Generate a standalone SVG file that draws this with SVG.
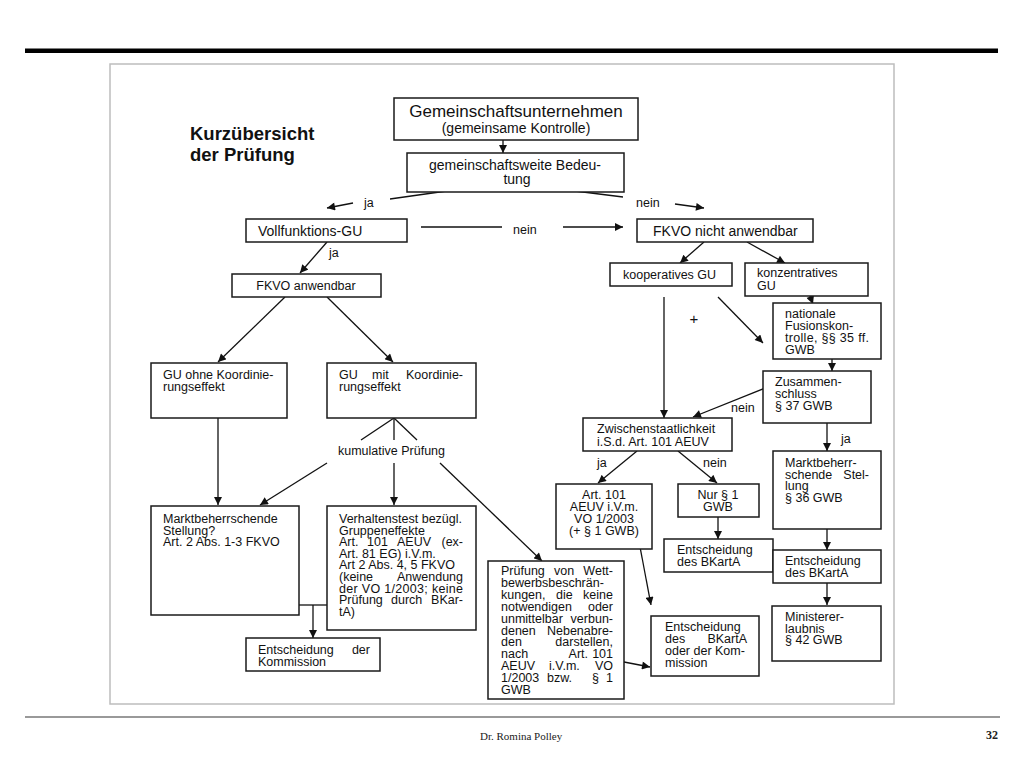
<svg xmlns="http://www.w3.org/2000/svg" width="1024" height="768" viewBox="0 0 1024 768">
<style>
.b{fill:#fff;stroke:#1a1a1a;stroke-width:1.5}
.t{font-family:"Liberation Sans",Arial,sans-serif;font-size:12.5px;fill:#111}
.h{font-size:14px}
.e{text-anchor:end}
.m{text-anchor:middle}
.c{stroke:#111;stroke-width:1.3;fill:none}
.ar{marker-end:url(#a)}
</style>
<defs>
<marker id="a" viewBox="0 0 10 10" refX="10" refY="5" markerWidth="9" markerHeight="8" markerUnits="userSpaceOnUse" orient="auto"><path d="M0,0 L10,5 L0,10 z" fill="#111"/></marker>
</defs>
<rect width="1024" height="768" fill="#fff"/>
<rect x="25" y="48.5" width="973" height="4.5" fill="#000"/>
<rect x="110" y="64" width="784" height="640" fill="none" stroke="#bdbdbd" stroke-width="1.5"/>
<line x1="25" y1="717" x2="1000" y2="717" stroke="#777" stroke-width="1.5"/>
<text x="480" y="740" style="font-family:'Liberation Serif','Times New Roman',serif;font-size:11px;fill:#222">Dr. Romina Polley</text>
<text x="998" y="739" text-anchor="end" style="font-family:'Liberation Serif','Times New Roman',serif;font-size:12px;font-weight:bold;fill:#222">32</text>

<g id="title">
<text class="t" x="190" y="140" style="font-size:18.5px;font-weight:bold">Kurzübersicht</text>
<text class="t" x="190" y="161" style="font-size:18.5px;font-weight:bold">der Prüfung</text>
</g>

<g id="connectors">
<line class="c ar" x1="503" y1="140" x2="503" y2="153"/>
<line class="c" x1="475" y1="187" x2="390" y2="199"/>
<line class="c ar" x1="353" y1="203" x2="327" y2="208"/>
<text class="t" x="364" y="207">ja</text>
<line class="c" x1="543" y1="187" x2="623" y2="197"/>
<line class="c ar" x1="675" y1="204" x2="704" y2="208"/>
<text class="t" x="636" y="207">nein</text>
<line class="c" x1="421" y1="227" x2="502" y2="227"/>
<text class="t" x="513" y="234">nein</text>
<line class="c ar" x1="563" y1="227" x2="623" y2="227"/>
<line class="c ar" x1="327" y1="242" x2="300" y2="273"/>
<text class="t" x="329" y="257">ja</text>
<line class="c ar" x1="704" y1="242" x2="680" y2="263"/>
<line class="c ar" x1="747" y1="242" x2="785" y2="263"/>
<line class="c ar" x1="285" y1="297" x2="218" y2="362"/>
<line class="c ar" x1="327" y1="297" x2="393" y2="362"/>
<line class="c ar" x1="218" y1="418" x2="218" y2="505"/>
<line class="c" x1="394" y1="418" x2="361" y2="440"/>
<line class="c" x1="394" y1="418" x2="394" y2="440"/>
<line class="c" x1="394" y1="418" x2="417" y2="440"/>
<text class="t" x="338" y="455">kumulative Prüfung</text>
<line class="c ar" x1="327" y1="463" x2="260" y2="505"/>
<line class="c ar" x1="394" y1="463" x2="394" y2="505"/>
<line class="c ar" x1="440" y1="463" x2="542" y2="561"/>
<line class="c" x1="299" y1="605" x2="327" y2="605"/>
<line class="c ar" x1="313" y1="605" x2="313" y2="638"/>
<line class="c ar" x1="664" y1="297" x2="664" y2="418"/>
<line class="c ar" x1="718" y1="297" x2="763" y2="343"/>
<text class="t" x="694" y="324" text-anchor="middle" style="font-size:15px">+</text>
<line class="c ar" x1="804" y1="280" x2="813" y2="304"/>
<line class="c ar" x1="832" y1="359" x2="832" y2="371"/>
<line class="c ar" x1="775" y1="384" x2="693" y2="417"/>
<text class="t" x="731" y="412">nein</text>
<line class="c ar" x1="827" y1="423" x2="827" y2="451"/>
<text class="t" x="841" y="443">ja</text>
<line class="c ar" x1="637" y1="451" x2="598" y2="483"/>
<text class="t" x="597" y="467">ja</text>
<line class="c ar" x1="678" y1="451" x2="717" y2="483"/>
<text class="t" x="703" y="467">nein</text>
<line class="c ar" x1="718" y1="517" x2="718" y2="539"/>
<line class="c ar" x1="827" y1="529" x2="827" y2="550"/>
<line class="c ar" x1="827" y1="583" x2="827" y2="605"/>
<line class="c ar" x1="637" y1="531" x2="651" y2="605"/>
<line class="c ar" x1="624" y1="662" x2="650" y2="667"/>
</g>

<g id="gu">
<rect class="b" x="394" y="98" width="244" height="42"/>
<text class="t m" x="516" y="117" style="font-size:17px">Gemeinschaftsunternehmen</text>
<text class="t m h" x="516" y="133">(gemeinsame Kontrolle)</text>
</g>
<g id="bedeutung">
<rect class="b" x="407" y="153" width="217" height="39"/>
<text class="t m h" x="515" y="170">gemeinschaftsweite Bedeu-</text>
<text class="t m h" x="517" y="184">tung</text>
</g>
<g id="vollfunktion">
<rect class="b" x="246" y="219" width="161" height="23"/>
<text class="t h" x="258" y="236">Vollfunktions-GU</text>
</g>
<g id="fkvo-nicht">
<rect class="b" x="637" y="219" width="176" height="23"/>
<text class="t h" x="653" y="236">FKVO nicht anwendbar</text>
</g>
<g id="fkvo-anwendbar">
<rect class="b" x="232" y="274" width="149" height="23"/>
<text class="t m" x="306" y="290">FKVO anwendbar</text>
</g>
<g id="kooperativ">
<rect class="b" x="610" y="263" width="122" height="23"/>
<text class="t" x="623" y="279">kooperatives GU</text>
</g>
<g id="konzentrativ">
<rect class="b" x="745" y="263" width="123" height="33"/>
<text class="t" x="757" y="277">konzentratives</text>
<text class="t" x="757" y="290">GU</text>
</g>
<g id="gu-ohne">
<rect class="b" x="151" y="363" width="136" height="55"/>
<text class="t" x="163" y="379">GU ohne Koordinie-</text>
<text class="t" x="163" y="391">rungseffekt</text>
</g>
<g id="gu-mit">
<rect class="b" x="327" y="363" width="149" height="55"/>
<text class="t" x="339" y="379">GU</text>
<text class="t" x="372" y="379">mit</text>
<text class="t e" x="463" y="379">Koordinie-</text>
<text class="t" x="339" y="391">rungseffekt</text>
</g>
<g id="marktbeherrschend-fkvo">
<rect class="b" x="151" y="506" width="148" height="109"/>
<text class="t" x="163" y="523">Marktbeherrschende</text>
<text class="t" x="163" y="534.6">Stellung?</text>
<text class="t" x="163" y="546.2">Art. 2 Abs. 1-3 FKVO</text>
</g>
<g id="verhaltenstest">
<rect class="b" x="327" y="506" width="149" height="124"/>
<text class="t" x="339" y="523">Verhaltenstest bezügl.</text>
<text class="t" x="339" y="534.6">Gruppeneffekte</text>
<text class="t" x="339" y="546.2">Art.</text>
<text class="t" x="367" y="546.2">101</text>
<text class="t" x="397" y="546.2">AEUV</text>
<text class="t e" x="463" y="546.2">(ex-</text>
<text class="t" x="339" y="557.8">Art. 81 EG) i.V.m.</text>
<text class="t" x="339" y="569.4">Art 2 Abs. 4, 5 FKVO</text>
<text class="t" x="339" y="581">(keine</text>
<text class="t e" x="463" y="581">Anwendung</text>
<text class="t" x="339" y="592.6" textLength="124" lengthAdjust="spacing">der VO 1/2003; keine</text>
<text class="t" x="339" y="604.2">Prüfung</text>
<text class="t" x="391" y="604.2">durch</text>
<text class="t e" x="463" y="604.2">BKar-</text>
<text class="t" x="339" y="615.8">tA)</text>
</g>
<g id="entscheidung-kommission">
<rect class="b" x="246" y="638" width="134" height="33"/>
<text class="t" x="258" y="654">Entscheidung</text>
<text class="t e" x="370" y="654">der</text>
<text class="t" x="258" y="666">Kommission</text>
</g>
<g id="pruefung-nebenabreden">
<rect class="b" x="488" y="561" width="136" height="138"/>
<text class="t" x="501" y="575">Prüfung</text>
<text class="t" x="554" y="575">von</text>
<text class="t e" x="613" y="575">Wett-</text>
<text class="t" x="501" y="586.9">bewerbsbeschrän-</text>
<text class="t" x="501" y="598.8">kungen,</text>
<text class="t" x="556" y="598.8">die</text>
<text class="t e" x="613" y="598.8">keine</text>
<text class="t" x="501" y="610.7">notwendigen</text>
<text class="t e" x="613" y="610.7">oder</text>
<text class="t" x="501" y="622.6">unmittelbar</text>
<text class="t e" x="613" y="622.6">verbun-</text>
<text class="t" x="501" y="634.5">denen</text>
<text class="t e" x="613" y="634.5">Nebenabre-</text>
<text class="t" x="501" y="646.4">den</text>
<text class="t e" x="613" y="646.4">darstellen,</text>
<text class="t" x="501" y="658.3">nach</text>
<text class="t e" x="588" y="658.3">Art.</text>
<text class="t e" x="613" y="658.3">101</text>
<text class="t" x="501" y="670.2">AEUV</text>
<text class="t" x="549" y="670.2">i.V.m.</text>
<text class="t e" x="613" y="670.2">VO</text>
<text class="t" x="501" y="682.1">1/2003</text>
<text class="t" x="547" y="682.1">bzw.</text>
<text class="t" x="592" y="682.1">§</text>
<text class="t e" x="613" y="682.1">1</text>
<text class="t" x="501" y="694">GWB</text>
</g>
<g id="nationale-fusionskontrolle">
<rect class="b" x="773" y="303" width="108" height="56"/>
<text class="t" x="785" y="318">nationale</text>
<text class="t" x="785" y="330">Fusionskon-</text>
<text class="t" x="785" y="342" textLength="84" lengthAdjust="spacing">trolle, §§ 35 ff.</text>
<text class="t" x="785" y="354">GWB</text>
</g>
<g id="zusammenschluss">
<rect class="b" x="763" y="371" width="108" height="52"/>
<text class="t" x="775" y="386">Zusammen-</text>
<text class="t" x="775" y="398">schluss</text>
<text class="t" x="775" y="410">§ 37 GWB</text>
</g>
<g id="zwischenstaatlichkeit">
<rect class="b" x="583" y="418" width="149" height="33"/>
<text class="t" x="597" y="433">Zwischenstaatlichkeit</text>
<text class="t" x="597" y="446">i.S.d. Art. 101 AEUV</text>
</g>
<g id="marktbeherrschend-gwb">
<rect class="b" x="773" y="451" width="108" height="78"/>
<text class="t" x="785" y="467">Marktbeherr-</text>
<text class="t" x="785" y="478.5">schende</text>
<text class="t e" x="869" y="478.5">Stel-</text>
<text class="t" x="785" y="490">lung</text>
<text class="t" x="785" y="501.5">§ 36 GWB</text>
</g>
<g id="art101">
<rect class="b" x="556" y="484" width="96" height="65"/>
<text class="t m" x="604" y="499">Art. 101</text>
<text class="t m" x="604" y="511">AEUV i.V.m.</text>
<text class="t m" x="604" y="523">VO 1/2003</text>
<text class="t m" x="604" y="535">(+ § 1 GWB)</text>
</g>
<g id="nur-gwb">
<rect class="b" x="678" y="484" width="81" height="33"/>
<text class="t m" x="718" y="499">Nur § 1</text>
<text class="t m" x="718" y="511">GWB</text>
</g>
<g id="entscheidung-bkarta-1">
<rect class="b" x="664" y="539" width="109" height="33"/>
<text class="t" x="677" y="554">Entscheidung</text>
<text class="t" x="677" y="566">des BKartA</text>
</g>
<g id="entscheidung-bkarta-2">
<rect class="b" x="773" y="550" width="108" height="33"/>
<text class="t" x="785" y="565">Entscheidung</text>
<text class="t" x="785" y="577">des BKartA</text>
</g>
<g id="ministererlaubnis">
<rect class="b" x="772" y="606" width="109" height="55"/>
<text class="t" x="785" y="621">Ministerer-</text>
<text class="t" x="785" y="632.5">laubnis</text>
<text class="t" x="785" y="644">§ 42 GWB</text>
</g>
<g id="entscheidung-bkarta-kommission">
<rect class="b" x="651" y="616" width="108" height="60"/>
<text class="t" x="665" y="631">Entscheidung</text>
<text class="t" x="665" y="643">des</text>
<text class="t e" x="747" y="643">BKartA</text>
<text class="t" x="665" y="655">oder der Kom-</text>
<text class="t" x="665" y="667">mission</text>
</g>
</svg>
